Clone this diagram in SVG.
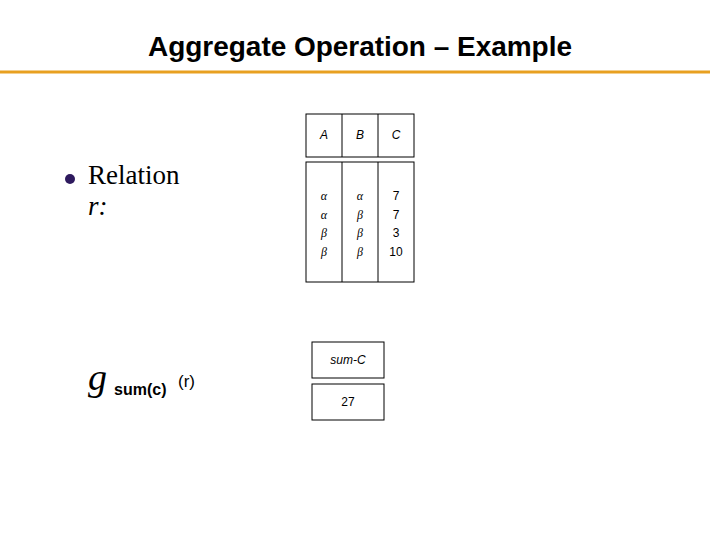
<svg xmlns="http://www.w3.org/2000/svg" width="720" height="540" viewBox="0 0 720 540">
<style>
.b{fill:none;stroke:#000;stroke-width:1}
.t{font-family:"Liberation Sans",Arial,sans-serif;font-size:12px;fill:#000;text-anchor:middle}
.i{font-style:italic}
.s{font-family:"Liberation Serif",serif;font-size:12px;font-style:italic;text-anchor:middle}
</style>
<rect width="720" height="540" fill="#fff"/>
<text x="360" y="56" font-family="Liberation Sans,Arial,sans-serif" font-size="28" font-weight="bold" text-anchor="middle" textLength="424">Aggregate Operation – Example</text>
<line x1="0" y1="72" x2="710" y2="72" stroke="#E8A020" stroke-width="3"/>
<circle cx="70" cy="179" r="5" fill="#2E1A5E"/>
<text x="88" y="184" font-family="Liberation Serif,serif" font-size="27">Relation</text>
<text x="88" y="215" font-family="Liberation Serif,serif" font-size="27" font-style="italic">r:</text>
<text x="88" y="390" font-family="Liberation Serif,serif" font-size="38" font-style="italic">g</text>
<text x="114" y="395" font-family="Liberation Sans,Arial,sans-serif" font-size="16" font-weight="bold">sum(c)</text>
<text x="178" y="387" font-family="Liberation Sans,Arial,sans-serif" font-size="17">(r)</text>
<g id="relation-r">
<rect class="b" x="306" y="114" width="108" height="43"/>
<line class="b" x1="342" y1="114" x2="342" y2="157"/><line class="b" x1="378" y1="114" x2="378" y2="157"/>
<text class="t i" x="324" y="139">A</text><text class="t i" x="360" y="139">B</text><text class="t i" x="396" y="139">C</text>
<rect class="b" x="306" y="162" width="108" height="120"/>
<line class="b" x1="342" y1="162" x2="342" y2="282"/><line class="b" x1="378" y1="162" x2="378" y2="282"/>
<text class="s" x="324" y="200">α</text><text class="s" x="324" y="219">α</text><text class="s" x="324" y="237">β</text><text class="s" x="324" y="256">β</text>
<text class="s" x="360" y="200">α</text><text class="s" x="360" y="219">β</text><text class="s" x="360" y="237">β</text><text class="s" x="360" y="256">β</text>
<text class="t" x="396" y="200">7</text><text class="t" x="396" y="219">7</text><text class="t" x="396" y="237">3</text><text class="t" x="396" y="256">10</text>
</g>
<g id="result">
<rect class="b" x="312" y="342" width="72" height="36"/>
<text class="t i" x="348" y="364">sum-C</text>
<rect class="b" x="312" y="384" width="72" height="36"/>
<text class="t" x="348" y="406">27</text>
</g>
<g id="connectors"/>
</svg>
